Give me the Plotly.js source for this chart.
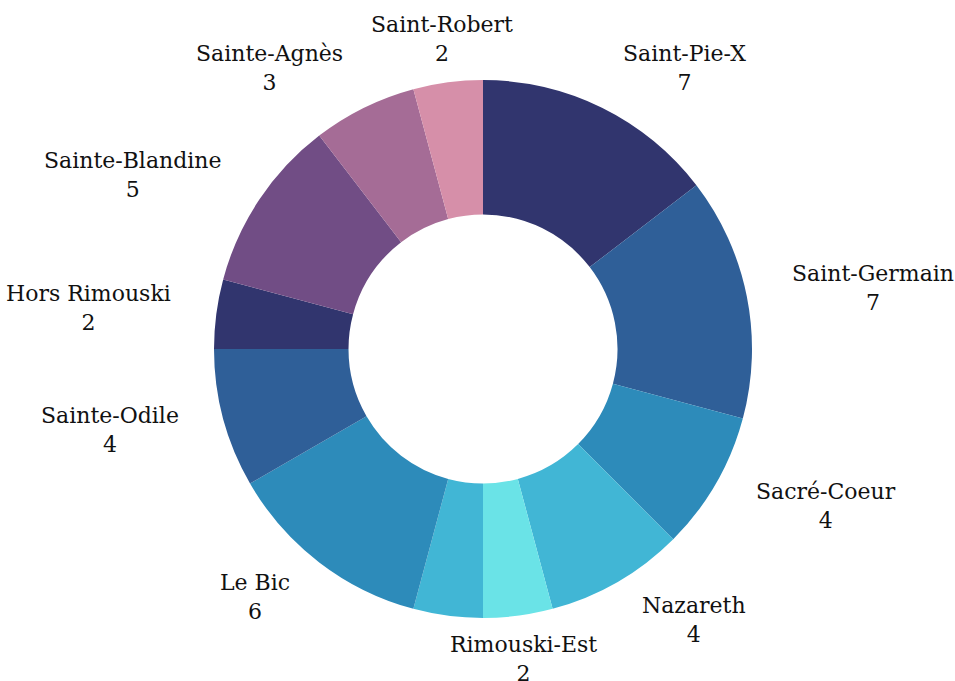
<!DOCTYPE html>
<html>
<head>
<meta charset="utf-8">
<script src="https://cdn.plot.ly/plotly-3.0.1.min.js"></script>
<style>html,body{margin:0;padding:0;background:#fff;}#chart{width:955px;height:681px;}</style>
</head>
<body>
<div id="chart"></div>
<script>
const categories = ["Saint-Pie-X","Saint-Germain","Sacré-Coeur","Nazareth","Rimouski-Est","Autre","Le Bic","Sainte-Odile","Hors Rimouski","Sainte-Blandine","Sainte-Agnès","Saint-Robert"];
const values = [7,7,4,4,2,2,6,4,2,5,3,2];
const showLabel = [true,true,true,true,true,false,true,true,true,true,true,true];
const colors = ["#31356e","#2f5f98","#2d8bba","#41b6d5","#6ae3e7","#41b6d5","#2d8bba","#2f5f98","#31356e","#714d85","#a56c96","#d68fa9"];

const W = 955, H = 681;
const margin = {l: 85, r: 74, t: 80, b: 63};
const plotW = W - margin.l - margin.r;
const plotH = H - margin.t - margin.b;
const radius = Math.min(plotW, plotH) / 2;
const labelRadius = radius * 1.164;
const fontFamily = "DejaVu Serif";

const data = [{
  type: "pie",
  labels: categories,
  values: values,
  hole: 0.5,
  sort: false,
  direction: "clockwise",
  rotation: 0,
  marker: {colors: colors, line: {width: 0}},
  textinfo: "none",
  hoverinfo: "label+value",
  automargin: false,
  showlegend: false
}];

// Outside labels placed along each slice's middle angle
const total = values.reduce((a, b) => a + b, 0);
const annotations = [];
let cum = 0;
values.forEach((v, i) => {
  const theta = (cum + v / 2) / total * 2 * Math.PI;
  cum += v;
  if (!showLabel[i]) return;
  const ux = Math.sin(theta), uy = Math.cos(theta);
  const x = 0.5 + labelRadius * ux / plotW;
  const y = 0.5 + labelRadius * uy / plotH;
  let xanchor = "center";
  if (ux > 0.2) xanchor = "left";
  else if (ux < -0.2) xanchor = "right";
  annotations.push({
    xref: "paper", yref: "paper", x: x, y: y,
    xanchor: xanchor, yanchor: "middle",
    text: categories[i] + "<br>" + values[i],
    showarrow: false, align: "center",
    font: {family: fontFamily, size: 22, color: "#111"}
  });
});

const layout = {
  width: W, height: H,
  margin: margin,
  paper_bgcolor: "#fff",
  font: {family: fontFamily, size: 22, color: "#111"},
  showlegend: false,
  annotations: annotations
};

Plotly.newPlot("chart", data, layout, {displayModeBar: false, staticPlot: true});
</script>
</body>
</html>
